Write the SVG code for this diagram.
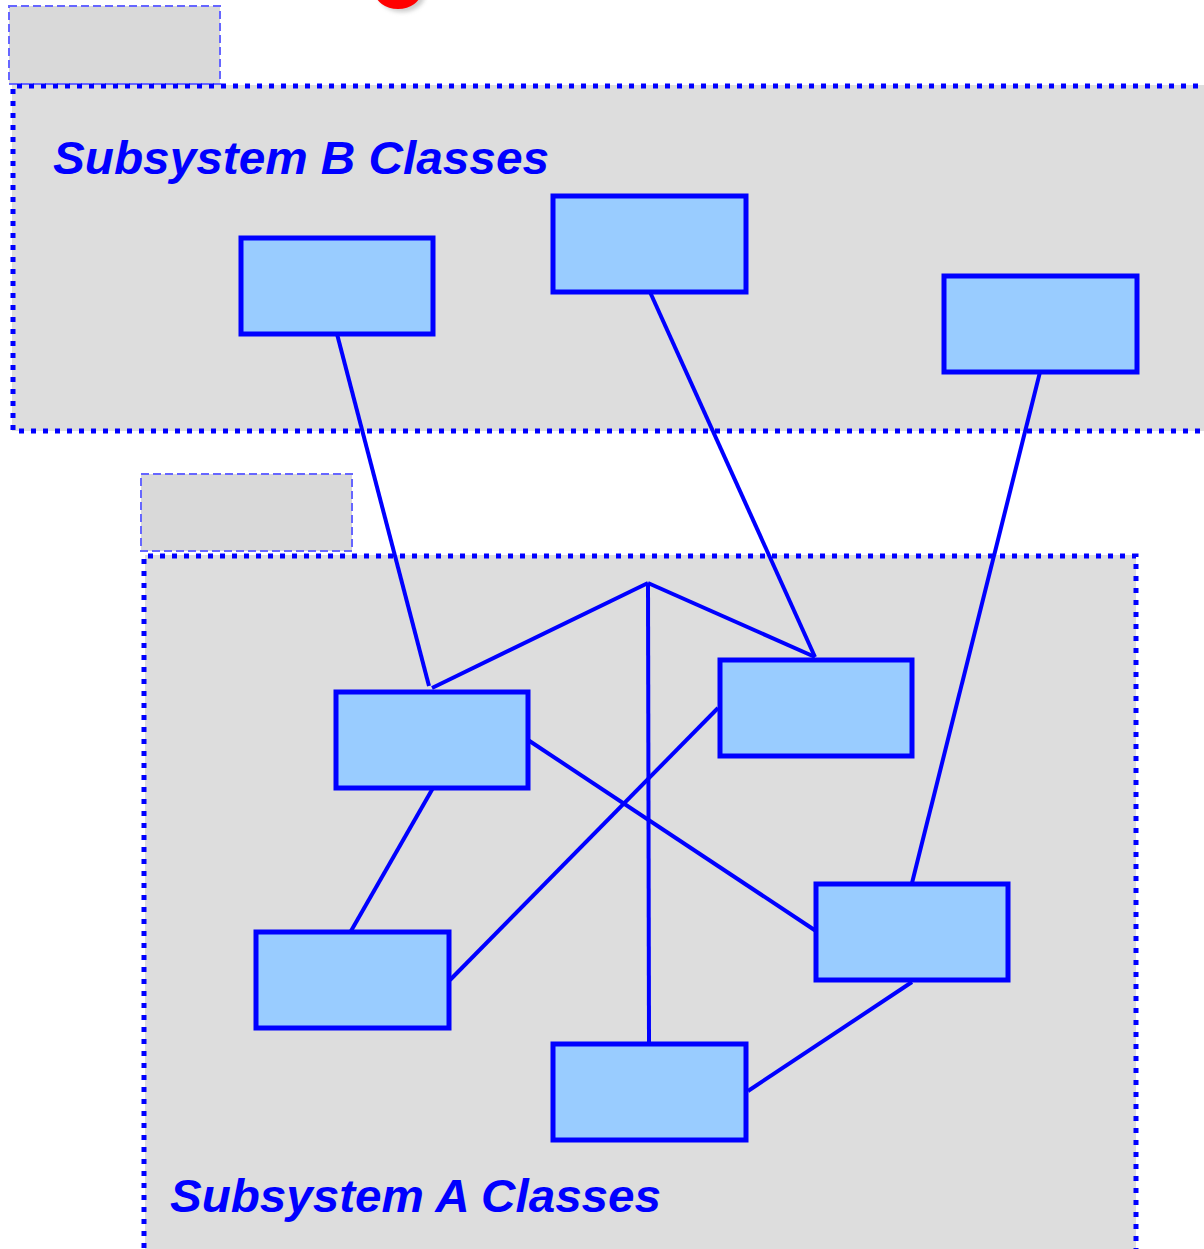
<svg xmlns="http://www.w3.org/2000/svg" width="1204" height="1249" viewBox="0 0 1204 1249">
<defs>
<style>
.tab{fill:#d9d9d9;stroke:#6666ff;stroke-width:2;stroke-dasharray:8 4}
.body{fill:#dddddd;stroke:none}
.dot{fill:none;stroke:#0000ff;stroke-width:5;stroke-dasharray:5 7}
.cls{fill:#99ccff;stroke:#0000ff;stroke-width:5}
.lbl{font-family:"Liberation Sans",Arial,sans-serif;font-weight:bold;font-style:italic;font-size:47px;fill:#0000ff}
.conn{stroke:#0000ff;stroke-width:4;fill:none}
</style>
<filter id="sh" x="-50%" y="-50%" width="200%" height="200%"><feGaussianBlur stdDeviation="2"/></filter>
</defs>
<rect width="1204" height="1249" fill="#ffffff"/>
<g id="red-mark">
<ellipse cx="400" cy="-8" rx="23" ry="17" fill="#999" opacity="0.5" filter="url(#sh)" transform="translate(2,3)"/>
<ellipse cx="398" cy="-8" rx="23" ry="17" fill="#ff0000"/>
</g>
<g id="package-b">
<rect class="tab" x="9" y="6" width="211" height="78"/>
<rect class="body" x="12" y="85" width="1200" height="346"/>
<path class="dot" d="M1210,86 H13 V431 H1210"/>
<text class="lbl" x="53" y="174" textLength="496" lengthAdjust="spacingAndGlyphs">Subsystem B Classes</text>
</g>
<g id="package-a">
<rect class="tab" x="141" y="474" width="211" height="77"/>
<rect class="body" x="145" y="555" width="991" height="700"/>
<path class="dot" d="M144,1260 V556 H1136 V1260"/>
<text class="lbl" x="170" y="1212" textLength="491" lengthAdjust="spacingAndGlyphs">Subsystem A Classes</text>
</g>
<g id="connectors">
<line class="conn" x1="337" y1="334" x2="429" y2="686"/>
<line class="conn" x1="650" y1="292" x2="815" y2="657"/>
<line class="conn" x1="1040" y1="372" x2="912" y2="883"/>
<line class="conn" x1="648" y1="583" x2="432" y2="688"/>
<line class="conn" x1="648" y1="583" x2="815" y2="657"/>
<line class="conn" x1="648" y1="583" x2="649" y2="1043"/>
<line class="conn" x1="528" y1="740" x2="816" y2="931"/>
<line class="conn" x1="718" y1="708" x2="450" y2="980"/>
<line class="conn" x1="433" y1="788" x2="351" y2="931"/>
<line class="conn" x1="912" y1="982" x2="748" y2="1091"/>
</g>
<g id="class-b1"><rect class="cls" x="241" y="238" width="192" height="96"/></g>
<g id="class-b2"><rect class="cls" x="553" y="196" width="193" height="96"/></g>
<g id="class-b3"><rect class="cls" x="944" y="276" width="193" height="96"/></g>
<g id="class-a1"><rect class="cls" x="336" y="692" width="192" height="96"/></g>
<g id="class-a2"><rect class="cls" x="720" y="660" width="192" height="96"/></g>
<g id="class-a3"><rect class="cls" x="256" y="932" width="193" height="96"/></g>
<g id="class-a4"><rect class="cls" x="816" y="884" width="192" height="96"/></g>
<g id="class-a5"><rect class="cls" x="553" y="1044" width="193" height="96"/></g>
</svg>
